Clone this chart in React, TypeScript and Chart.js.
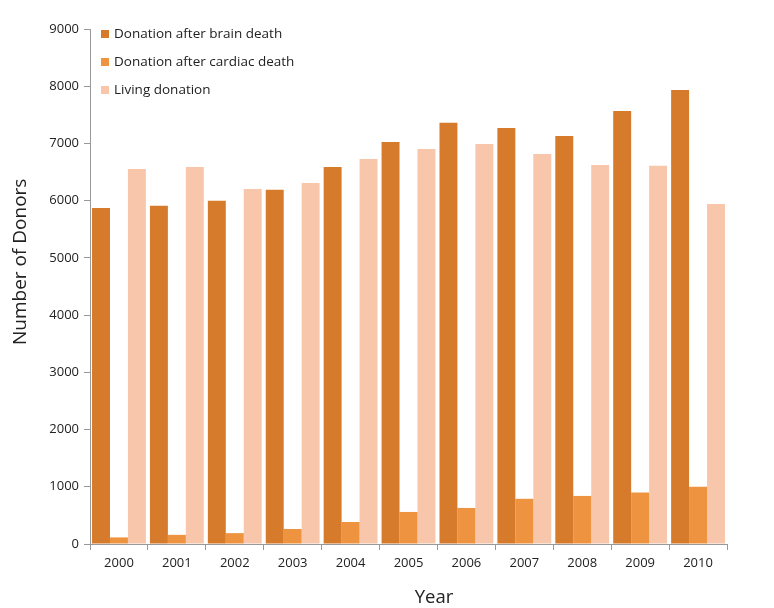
import React, { useEffect, useRef } from "react";
import { Chart, registerables } from "chart.js";

Chart.register(...registerables);

const years = ["2000", "2001", "2002", "2003", "2004", "2005", "2006", "2007", "2008", "2009", "2010"];
const brainDeath = [5870, 5910, 6000, 6190, 6590, 7025, 7360, 7270, 7130, 7565, 7935];
const cardiacDeath = [115, 160, 190, 262, 385, 560, 630, 790, 840, 900, 1000];
const livingDonation = [6555, 6590, 6205, 6310, 6730, 6905, 6990, 6815, 6625, 6610, 5940];
const seriesNames = ["Donation after brain death", "Donation after cardiac death", "Living donation"];
const seriesColors = ["#D67B2C", "#EE9340", "#F8C7AB"];
const xTitle = "Year";
const yTitle = "Number of Donors";

const FONT = "'Open Sans', sans-serif";

const insideLegend = {
  id: "insideLegend",
  afterDraw(chart: any) {
    const { ctx, chartArea } = chart;
    ctx.save();
    ctx.font = `13.5px ${FONT}`;
    ctx.textBaseline = "middle";
    chart.data.datasets.forEach((ds: any, i: number) => {
      const x = chartArea.left + 11;
      const y = chartArea.top + 5 + i * 28;
      ctx.fillStyle = ds.backgroundColor;
      ctx.fillRect(x, y - 4, 8, 8);
      ctx.fillStyle = "#222";
      ctx.fillText(ds.label, x + 13, y);
    });
    ctx.restore();
  },
};

const axisTitles = {
  id: "axisTitles",
  afterDraw(chart: any) {
    const { ctx, chartArea } = chart;
    const w = chartArea.right - chartArea.left;
    const h = chartArea.bottom - chartArea.top;
    ctx.save();
    ctx.fillStyle = "#222";
    ctx.textAlign = "center";
    ctx.textBaseline = "middle";
    ctx.font = `18.5px ${FONT}`;
    ctx.fillText(xTitle, chartArea.left + w * 0.54, 598);
    ctx.translate(21, chartArea.top + h * 0.452);
    ctx.rotate(-Math.PI / 2);
    ctx.font = `19px ${FONT}`;
    ctx.fillText(yTitle, 0, 0);
    ctx.restore();
  },
};

export default function App() {
  const ref = useRef<HTMLCanvasElement>(null);
  useEffect(() => {
    if (!ref.current) return;
    const chart = new Chart(ref.current, {
      type: "bar",
      data: {
        labels: years,
        datasets: [
          { label: seriesNames[0], data: brainDeath, backgroundColor: seriesColors[0] },
          { label: seriesNames[1], data: cardiacDeath, backgroundColor: seriesColors[1] },
          { label: seriesNames[2], data: livingDonation, backgroundColor: seriesColors[2] },
        ],
      },
      options: {
        animation: false,
        responsive: false,
        maintainAspectRatio: false,
        layout: { padding: { top: 29, right: 47, left: 0, bottom: 0 } },
        datasets: { bar: { categoryPercentage: 0.93, barPercentage: 1.0 } },
        plugins: { legend: { display: false }, tooltip: { enabled: false } },
        scales: {
          x: {
            afterFit: (s: any) => { s.height = 64; },
            grid: { display: true, drawOnChartArea: false, offset: true, tickLength: 6, color: "#999" },
            border: { color: "#999" },
            ticks: { color: "#222", font: { family: FONT, size: 13 }, padding: 5 },
          },
          y: {
            min: 0,
            max: 9000,
            afterFit: (s: any) => { s.width = 90; },
            grid: { display: true, drawOnChartArea: false, tickLength: 6, color: "#999" },
            border: { color: "#999" },
            ticks: { stepSize: 1000, color: "#222", font: { family: FONT, size: 13 }, padding: 5, callback: (v: any) => String(v) },
          },
        },
      },
      plugins: [insideLegend, axisTitles],
    });
    return () => chart.destroy();
  }, []);
  return (
    <div style={{ position: "fixed", left: 0, top: 0, width: 774, height: 608, background: "#fff" }}>
      <canvas ref={ref} width={774} height={608} />
    </div>
  );
}
